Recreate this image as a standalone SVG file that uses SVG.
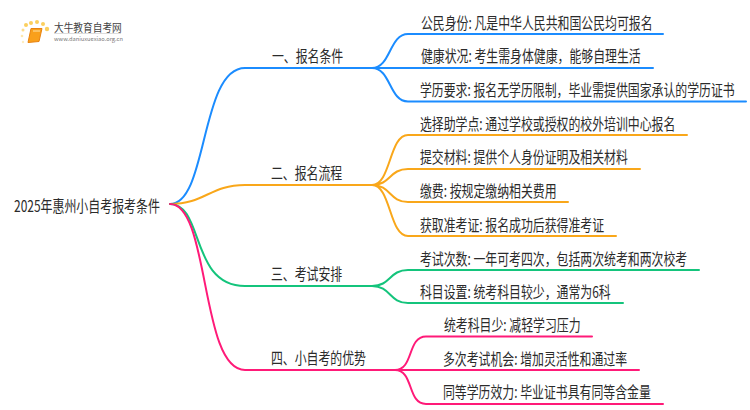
<svg xmlns="http://www.w3.org/2000/svg" width="750" height="410" viewBox="0 0 750 410">
<style>
text{font-family:"Noto Sans CJK SC","Liberation Sans",sans-serif;fill:#2b2b2b;font-size:16px}
.c{fill:none;stroke-width:2;stroke-linecap:round}
.b{stroke:#1b8cff}.o{stroke:#f9a71a}.g{stroke:#14c47c}.p{stroke:#ff1a78}
</style>
<rect width="750" height="410" fill="#fff"/>
<g id="logo">
<g fill="#fbcf5e"><circle cx="26" cy="25" r="2"/><circle cx="31" cy="23" r="2"/><circle cx="37" cy="22" r="2"/><circle cx="43" cy="24" r="2"/><circle cx="47" cy="29" r="2.200"/><circle cx="23" cy="30" r="1.500" opacity=".7"/><circle cx="22" cy="36" r="1.300" opacity=".5"/><circle cx="23" cy="42" r="1.200" opacity=".4"/></g>
<path d="M31 28.500H42L39 41.500L28 42.500Z" fill="#f9a01b" stroke="#e8820f"/>
<path d="M33 31H40" stroke="#fde3a8"/>
<text transform="translate(54 32) scale(.88 1)" style="font-size:11px;fill:#444">大牛教育自考网</text>
<path d="M54 33.500H121" stroke="#ddd"/>
<text x="54" y="41" style="font-size:5.500px;fill:#777" textLength="69" lengthAdjust="spacingAndGlyphs">www.daniuxuexiao.org.cn</text>
</g>
<g id="connectors">
<path class="c b" d="M170 204C208 204 200 68 245 68H372"/>
<path class="c o" d="M170 204C205 204 210 185 245 185H372"/>
<path class="c g" d="M170 204C204 204 190 286 245 286H372"/>
<path class="c p" d="M170 204C210 204 200 370 245 370H395"/>
<path class="c b" d="M372 68C391 68 389 34 408 34H663M372 68H653M372 68C391 68 389 101.500 408 101.500H746"/>
<path class="c o" d="M372 185C391 185 389 135 408 135H687M372 185C391 185 389 169 408 169H640M372 185C391 185 389 202 408 202H568M372 185C391 185 389 236 408 236H616"/>
<path class="c g" d="M372 286C391 286 389 270 408 270H699M372 286C391 286 389 303 408 303H623"/>
<path class="c p" d="M395 370C414 370 407 336.500 426 336.500H592M395 370H639M395 370C414 370 407 404 426 404H663"/>
</g>
<g id="root"><text transform="translate(14 212) scale(.747 1)">2025年惠州小自考报考条件</text></g>
<g id="n1"><text transform="translate(272 62) scale(.743 1)">一、报名条件</text></g>
<g id="n2"><text transform="translate(271 179) scale(.743 1)">二、报名流程</text></g>
<g id="n3"><text transform="translate(271 280) scale(.743 1)">三、考试安排</text></g>
<g id="n4"><text transform="translate(271 364) scale(.743 1)">四、小自考的优势</text></g>
<g id="l1"><text transform="translate(421 29) scale(.743 1)">公民身份: 凡是中华人民共和国公民均可报名</text></g>
<g id="l2"><text transform="translate(421 62) scale(.743 1)">健康状况: 考生需身体健康，能够自理生活</text></g>
<g id="l3"><text transform="translate(420 96) scale(.743 1)">学历要求: 报名无学历限制，毕业需提供国家承认的学历证书</text></g>
<g id="l4"><text transform="translate(420 130) scale(.743 1)">选择助学点: 通过学校或授权的校外培训中心报名</text></g>
<g id="l5"><text transform="translate(420 163) scale(.743 1)">提交材料: 提供个人身份证明及相关材料</text></g>
<g id="l6"><text transform="translate(420 197) scale(.743 1)">缴费: 按规定缴纳相关费用</text></g>
<g id="l7"><text transform="translate(420 231) scale(.743 1)">获取准考证: 报名成功后获得准考证</text></g>
<g id="l8"><text transform="translate(420 265) scale(.743 1)">考试次数: 一年可考四次，包括两次统考和两次校考</text></g>
<g id="l9"><text transform="translate(420 298) scale(.743 1)">科目设置: 统考科目较少，通常为6科</text></g>
<g id="l10"><text transform="translate(444 331) scale(.743 1)">统考科目少: 减轻学习压力</text></g>
<g id="l11"><text transform="translate(443 365) scale(.743 1)">多次考试机会: 增加灵活性和通过率</text></g>
<g id="l12"><text transform="translate(443 398) scale(.743 1)">同等学历效力: 毕业证书具有同等含金量</text></g>
</svg>
